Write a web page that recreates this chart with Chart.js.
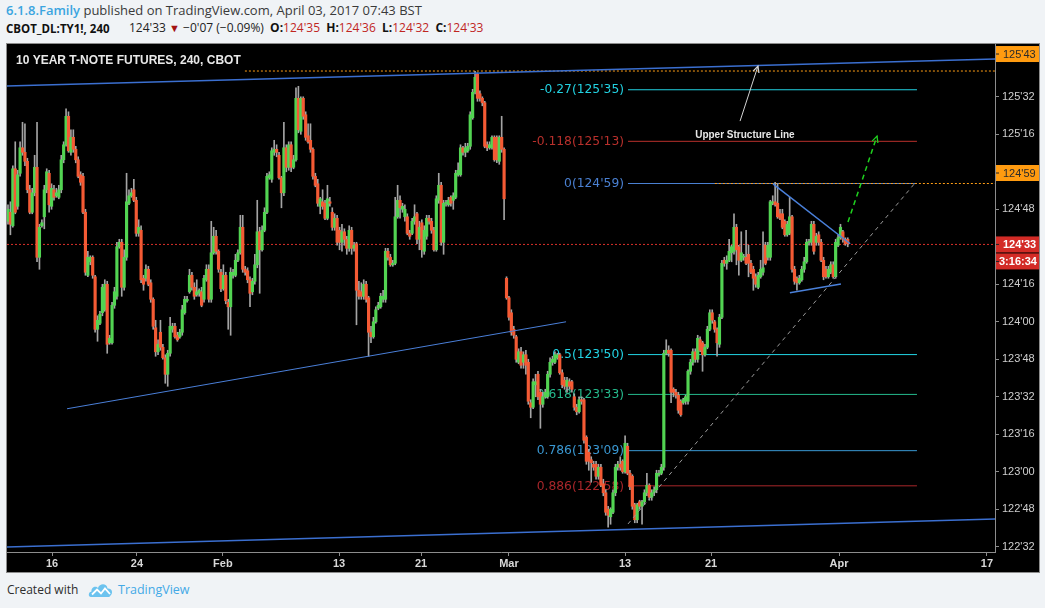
<!DOCTYPE html>
<html><head><meta charset="utf-8">
<script src="https://cdn.jsdelivr.net/npm/chart.js@4.4.1/dist/chart.umd.min.js"></script>
<style>
html,body{margin:0;padding:0;background:#f0f3f6;width:1045px;height:608px;overflow:hidden;font-family:'Open Sans',sans-serif}
#h1{position:absolute;left:6px;top:1px;font-size:13px;line-height:18px;color:#3a3a3a;white-space:nowrap}
#h1 .nm{color:#3ba5e0;font-weight:600}
#h2a{position:absolute;left:6px;top:20px;font-size:11.5px;line-height:17px;font-weight:700;color:#111;white-space:nowrap}
#h2b{position:absolute;left:129px;top:19px;font-size:12px;line-height:18px;color:#222;white-space:nowrap}
#h2b b{font-weight:700;color:#111}
#h2b .r{color:#c0261f}
#h2b .dn{color:#a31212;font-size:11px}
#panel{position:absolute;left:6px;top:43px;width:1032px;height:528px;border:1px solid #8c8c8c;background:#000}
#panel canvas{position:absolute;left:0;top:0}
#foot{position:absolute;left:7px;top:581px;font-size:12px;line-height:18px;color:#2d2d2d;white-space:nowrap}
#foot svg{position:absolute;left:81px;top:0px}
#foot .tv{position:absolute;left:111px;top:0;color:#43a9e6;font-size:12.5px}
</style></head>
<body>
<div id="h1"><span class="nm">6.1.8.Family</span> published on TradingView.com, April 03, 2017 07:43 BST</div>
<div id="h2a">CBOT_DL:TY1!, 240</div>
<div id="h2b">124'33 <span class="dn">&#9660;</span> &minus;0'07 (&minus;0.09%)&nbsp; <b>O:</b><span class="r">124'35</span>&nbsp; <b>H:</b><span class="r">124'36</span>&nbsp; <b>L:</b><span class="r">124'32</span>&nbsp; <b>C:</b><span class="r">124'33</span></div>
<div id="panel"><canvas id="c" width="1032" height="528"></canvas></div>
<div id="foot">Created with
<svg width="26" height="18" viewBox="0 0 26 18"><path d="M3 16 C0 16 0 11 3.5 10.5 C3 6 8 4.5 10 7 C11.5 2 19 2 19.5 7.5 C24 7 25.5 12 22.5 14.5 C22 15.5 21 16 20 16 Z" fill="#6cc3ef"/><path d="M4 13.5 L9 8.5 L13 12.5 L17 7.5 L22 13" stroke="#fff" stroke-width="1.8" fill="none"/></svg>
<span class="tv">TradingView</span></div>
<script>
// ---- OHLC (4h bars, 10Y T-Note futures) ----
const opens = [
124.67,124.73,124.64,125.02,124.77,124.99,125.16,125.13,125.07,124.88,
124.73,124.86,125.03,124.43,124.64,124.70,124.88,124.99,124.77,124.88,
124.84,124.83,124.88,125.08,125.18,125.37,125.13,125.23,125.15,125.08,
124.98,124.97,124.73,124.31,124.40,124.43,124.30,123.95,123.99,124.06,
124.08,124.25,123.86,123.86,124.11,124.17,124.50,124.53,124.23,124.43,
124.79,124.84,124.88,124.81,124.59,124.61,124.29,124.29,124.35,124.26,
124.15,123.96,123.80,123.93,123.83,123.76,123.65,123.79,123.95,123.97,
123.91,123.90,123.93,124.06,124.14,124.20,124.31,124.23,124.18,124.19,
124.20,124.15,124.28,124.35,124.15,124.46,124.57,124.47,124.33,124.22,
124.31,124.13,124.10,124.31,124.31,124.41,124.46,124.63,124.35,124.34,
124.28,124.20,124.27,124.38,124.60,124.48,124.61,124.73,124.96,124.95,
125.13,125.15,125.11,124.96,124.86,125.16,125.03,125.18,125.03,125.08,
125.49,125.27,125.49,125.38,125.24,125.21,125.15,124.97,124.92,124.77,
124.80,124.79,124.69,124.80,124.73,124.63,124.69,124.61,124.53,124.60,
124.55,124.49,124.61,124.49,124.52,124.21,124.20,124.17,124.25,124.16,
123.93,123.90,124.00,124.09,124.10,124.15,124.15,124.47,124.43,124.38,
124.39,124.70,124.81,124.75,124.70,124.70,124.59,124.59,124.67,124.72,
124.55,124.66,124.47,124.57,124.69,124.67,124.61,124.48,124.81,124.91,
124.53,124.79,124.78,124.83,124.81,124.83,124.98,124.98,125.16,125.13,
125.14,125.17,125.36,125.53,125.65,125.52,125.49,125.46,125.18,125.16,
125.16,125.23,125.23,125.07,125.23,125.15,124.29,124.16,124.06,123.95,
123.90,123.73,123.80,123.73,123.78,123.73,123.46,123.43,123.58,123.65,
123.53,123.45,123.50,123.50,123.65,123.73,123.73,123.76,123.78,123.66,
123.61,123.57,123.60,123.60,123.50,123.43,123.40,123.48,123.48,123.23,
123.13,123.08,123.05,123.05,122.97,123.03,122.92,122.86,122.75,122.70,
122.73,122.86,123.03,123.05,123.07,123.00,123.17,122.99,122.97,122.78,
122.68,122.80,122.77,122.80,122.86,122.91,122.83,122.86,122.88,122.98,
122.99,123.03,123.79,123.81,123.81,123.55,123.53,123.51,123.47,123.46,
123.47,123.47,123.67,123.73,123.80,123.75,123.88,123.86,123.78,123.83,
123.95,124.06,124.00,123.95,123.85,124.03,124.41,124.39,124.41,124.46,
124.47,124.63,124.50,124.41,124.43,124.43,124.45,124.39,124.35,124.30,
124.23,124.30,124.33,124.51,124.43,124.43,124.79,124.80,124.79,124.72,
124.72,124.67,124.58,124.59,124.70,124.35,124.29,124.26,124.28,124.35,
124.40,124.53,124.53,124.65,124.53,124.58,124.53,124.41,124.35,124.30,
124.33,124.38,124.30,124.51,124.56,124.60,124.55,124.55];
const highs = [
124.78,124.80,125.04,125.20,125.01,125.20,125.33,125.32,125.09,124.91,
124.89,125.11,125.33,124.65,124.68,124.91,125.02,125.01,124.92,124.91,
124.89,124.91,125.11,125.20,125.42,125.40,125.28,125.28,125.17,125.10,
125.00,124.99,124.75,124.47,124.44,124.44,124.31,124.04,124.07,124.25,
124.28,124.27,123.91,124.13,124.23,124.53,124.55,124.55,124.48,124.99,
124.88,124.89,124.95,124.83,124.68,124.64,124.31,124.38,124.37,124.28,
124.16,124.01,123.88,124.01,123.85,123.78,123.81,124.03,123.99,123.99,
123.93,123.95,124.11,124.17,124.17,124.35,124.33,124.26,124.28,124.22,
124.23,124.31,124.38,124.38,124.67,124.63,124.61,124.48,124.35,124.38,
124.33,124.15,124.36,124.35,124.45,124.48,124.71,124.71,124.37,124.36,
124.30,124.29,124.45,124.81,124.63,124.64,124.76,124.99,125.00,125.16,
125.21,125.18,125.13,124.97,125.33,125.18,125.20,125.20,125.11,125.56,
125.57,125.50,125.50,125.40,125.32,125.32,125.16,124.99,124.95,124.83,
124.88,124.81,124.91,124.83,124.76,124.72,124.71,124.63,124.65,124.62,
124.57,124.64,124.63,124.53,124.53,124.27,124.26,124.28,124.27,124.17,
123.97,124.03,124.10,124.13,124.19,124.21,124.49,124.49,124.45,124.41,
124.83,124.91,124.84,124.79,124.78,124.72,124.61,124.69,124.78,124.73,
124.67,124.68,124.64,124.71,124.71,124.69,124.63,124.84,124.99,124.93,
124.81,124.81,124.83,124.84,124.86,125.01,125.06,125.18,125.17,125.19,
125.19,125.40,125.55,125.67,125.66,125.54,125.50,125.47,125.20,125.20,
125.24,125.24,125.24,125.24,125.37,125.16,124.30,124.17,124.08,123.97,
123.91,123.82,123.83,123.80,123.81,123.75,123.48,123.62,123.65,123.67,
123.55,123.53,123.55,123.67,123.76,123.77,123.80,123.79,123.79,123.68,
123.63,123.63,123.62,123.61,123.52,123.45,123.50,123.50,123.49,123.24,
123.15,123.10,123.07,123.07,123.05,123.05,122.95,122.88,122.77,122.76,
122.88,123.05,123.07,123.10,123.08,123.24,123.19,123.01,122.98,122.79,
122.79,122.81,122.81,122.88,122.99,122.92,122.88,122.90,123.01,123.01,
123.05,123.81,123.88,123.84,123.82,123.56,123.55,123.53,123.48,123.49,
123.51,123.68,123.75,123.82,123.82,123.91,123.90,123.87,123.85,123.97,
124.08,124.08,124.01,123.96,124.05,124.41,124.43,124.44,124.55,124.51,
124.72,124.65,124.51,124.60,124.45,124.61,124.51,124.41,124.37,124.32,
124.33,124.41,124.60,124.53,124.53,124.81,124.84,124.93,124.92,124.75,
124.75,124.68,124.67,124.83,124.71,124.37,124.30,124.31,124.37,124.43,
124.55,124.55,124.67,124.67,124.59,124.60,124.55,124.43,124.37,124.37,
124.40,124.40,124.55,124.58,124.65,124.61,124.56,124.56];
const lows = [
124.65,124.58,124.63,124.72,124.75,124.97,125.11,125.04,124.86,124.72,
124.72,124.84,124.40,124.35,124.63,124.62,124.86,124.73,124.75,124.81,
124.83,124.82,124.86,125.06,125.17,125.13,125.11,125.13,125.06,124.96,
124.91,124.72,124.31,124.30,124.38,124.29,123.93,123.87,123.98,124.04,
124.07,123.79,123.85,123.85,124.09,124.15,124.49,124.17,124.21,124.41,
124.78,124.83,124.80,124.57,124.57,124.26,124.21,124.27,124.24,124.13,
123.95,123.77,123.78,123.81,123.75,123.59,123.57,123.77,123.93,123.89,
123.87,123.89,123.91,124.05,124.13,124.19,124.21,124.15,124.17,124.17,
124.10,124.13,124.27,124.13,124.13,124.45,124.45,124.33,124.20,124.21,
124.12,123.95,123.91,124.29,124.30,124.40,124.45,124.33,124.31,124.26,
124.10,124.18,124.25,124.36,124.19,124.47,124.60,124.72,124.95,124.93,
125.11,125.10,124.95,124.76,124.84,125.00,125.01,125.00,125.02,125.07,
125.26,125.25,125.35,125.21,125.19,125.13,124.95,124.90,124.77,124.72,
124.75,124.68,124.68,124.77,124.61,124.61,124.51,124.48,124.47,124.51,
124.45,124.47,124.45,124.47,123.98,124.15,124.15,124.15,124.13,123.77,
123.86,123.89,123.99,124.08,124.09,124.13,124.13,124.41,124.37,124.37,
124.38,124.69,124.69,124.73,124.67,124.58,124.55,124.58,124.65,124.52,
124.48,124.43,124.45,124.55,124.65,124.59,124.47,124.47,124.79,124.51,
124.45,124.77,124.77,124.77,124.75,124.82,124.97,124.97,125.11,125.10,
125.13,125.15,125.35,125.52,125.47,125.47,125.44,125.16,125.14,125.15,
125.15,125.07,125.06,125.05,125.13,124.68,124.15,124.01,123.91,123.89,
123.73,123.72,123.69,123.69,123.65,123.45,123.36,123.42,123.50,123.48,
123.29,123.43,123.49,123.49,123.63,123.71,123.72,123.75,123.65,123.56,
123.55,123.53,123.55,123.53,123.41,123.38,123.39,123.45,123.19,123.05,
123.01,122.93,123.01,122.95,122.95,122.90,122.84,122.71,122.63,122.65,
122.72,122.84,123.01,123.01,122.99,122.99,122.98,122.88,122.75,122.66,
122.66,122.75,122.65,122.78,122.84,122.81,122.81,122.84,122.86,122.97,
122.98,123.01,123.78,123.77,123.46,123.50,123.49,123.39,123.37,123.45,
123.45,123.45,123.65,123.71,123.73,123.73,123.80,123.67,123.77,123.82,
123.94,123.99,123.93,123.77,123.83,124.02,124.37,124.35,124.40,124.40,
124.45,124.38,124.31,124.40,124.41,124.38,124.30,124.32,124.21,124.23,
124.22,124.29,124.31,124.38,124.41,124.41,124.78,124.77,124.69,124.68,
124.62,124.57,124.57,124.58,124.33,124.25,124.21,124.25,124.27,124.33,
124.39,124.51,124.51,124.45,124.51,124.51,124.40,124.28,124.29,124.29,
124.32,124.29,124.29,124.50,124.55,124.53,124.51,124.50];
const closes = [
124.75,124.65,125.02,124.73,124.98,125.16,125.13,125.07,124.88,124.73,
124.86,125.03,124.43,124.63,124.66,124.88,125.00,124.78,124.89,124.83,
124.86,124.88,125.08,125.18,125.37,125.14,125.23,125.15,125.08,124.97,
124.93,124.73,124.33,124.43,124.43,124.31,123.95,124.01,124.05,124.23,
124.25,123.85,123.89,124.11,124.20,124.50,124.53,124.23,124.43,124.80,
124.84,124.86,124.81,124.59,124.63,124.28,124.25,124.35,124.25,124.15,
123.97,123.80,123.85,123.83,123.76,123.65,123.79,123.97,123.97,123.90,
123.88,123.93,124.08,124.15,124.15,124.31,124.23,124.17,124.20,124.21,
124.11,124.29,124.35,124.15,124.46,124.57,124.47,124.35,124.22,124.31,
124.14,124.10,124.33,124.33,124.41,124.46,124.63,124.35,124.33,124.28,
124.19,124.27,124.38,124.60,124.48,124.61,124.73,124.97,124.98,125.14,
125.15,125.13,124.96,124.86,125.16,125.03,125.18,125.03,125.08,125.49,
125.28,125.49,125.37,125.23,125.20,125.15,124.97,124.91,124.79,124.82,
124.77,124.69,124.82,124.79,124.63,124.69,124.53,124.53,124.60,124.55,
124.49,124.61,124.49,124.51,124.21,124.17,124.17,124.25,124.15,123.93,
123.90,124.00,124.08,124.11,124.17,124.17,124.47,124.43,124.38,124.39,
124.70,124.81,124.76,124.77,124.75,124.59,124.57,124.67,124.70,124.55,
124.63,124.48,124.61,124.69,124.67,124.61,124.48,124.82,124.91,124.53,
124.79,124.79,124.81,124.79,124.84,124.99,125.01,125.16,125.13,125.16,
125.17,125.38,125.53,125.63,125.49,125.49,125.46,125.17,125.16,125.18,
125.23,125.08,125.08,125.23,125.15,124.82,124.16,124.03,123.93,123.91,
123.75,123.80,123.71,123.78,123.71,123.47,123.43,123.60,123.60,123.50,
123.45,123.50,123.53,123.65,123.73,123.75,123.78,123.78,123.66,123.58,
123.57,123.61,123.57,123.55,123.43,123.40,123.48,123.47,123.21,123.07,
123.07,123.06,123.03,122.97,123.03,122.91,122.86,122.73,122.71,122.75,
122.86,123.03,123.05,123.03,123.00,123.19,122.99,122.90,122.77,122.68,
122.78,122.77,122.80,122.86,122.91,122.83,122.86,122.88,122.99,122.99,
123.03,123.79,123.81,123.79,123.53,123.53,123.51,123.41,123.38,123.48,
123.50,123.67,123.73,123.80,123.75,123.89,123.81,123.78,123.83,123.95,
124.06,124.01,123.95,123.86,124.03,124.39,124.39,124.41,124.47,124.50,
124.63,124.48,124.41,124.46,124.43,124.39,124.39,124.33,124.29,124.25,
124.31,124.35,124.36,124.39,124.51,124.80,124.80,124.78,124.70,124.69,
124.63,124.58,124.65,124.70,124.35,124.27,124.26,124.29,124.35,124.40,
124.53,124.53,124.65,124.47,124.57,124.53,124.41,124.30,124.30,124.35,
124.38,124.30,124.53,124.56,124.63,124.55,124.52,124.52];

// ---- axis ticks ----
const xTickLabels = ['16','24','Feb','13','21','Mar','13','21','Apr','17'];
const xTickBars   = [18.2, 53.3, 88.8, 136.8, 170.7, 207.0, 255.0, 290.5, 343.4, 404.5];
const yTickLabels = ["122'32","122'48","123'00","123'16","123'32","123'48","124'00","124'16","124'48","125'16","125'32"];

// ---- Fibonacci retracement ----
const fibLevels = ['-0.27','-0.118','0','0.5','0.618','0.786','0.886'];
const fibPrices = ["125'35","125'13","124'59","123'50","123'33","123'09","122'58"];
const fibColors = ['#22d2e2','#b8302c','#4a80d2','#22d4e4','#25b98c','#3a98d2','#a8262a'];
const fibSpan = [256.2, 375.6];

// ---- drawings (bar index, price) ----
const upperStructure = [[-0.41,125.572],[407.85,125.752]];
const bottomLine     = [[-0.41,122.498],[407.85,122.685]];
const leftChannel    = [[24.4,123.42],[230.6,124.00]];
const triUpper       = [[316.1,124.92],[348.0,124.52]];
const triLower       = [[323.1,124.194],[344.2,124.252]];
const supportDash    = [[256.2,122.652],[374.8,124.925]];
const greenArrow     = [[347.1,124.665],[359.1,125.238]];
const grayArrow      = [[302.5,125.338],[309.9,125.705]];
const orangeTop      = ["125'43", 97.9];
const orangeMid      = ["124'59", 292.1];
const lastPrice      = "124'33";
const countdown      = '3:16:34';
const noteText       = ['Upper Structure Line', 304.5, 125.245];
const titleText      = '10 YEAR T-NOTE FUTURES, 240, CBOT';

const X_MIN = -0.41, X_MAX = 407.85, Y_MIN = 122.465, Y_MAX = 125.852;

function p64(s){ const a = s.split("'"); return +a[0] + (+a[1])/64; }
function f64(v){ let a = Math.floor(v+1e-9), b = Math.round((v-a)*64); if (b===64){a++;b=0;} return a+"'"+String(b).padStart(2,'0'); }
const pts = arr => arr.map(p => ({x:p[0], y:p[1]}));
const hline = (price, from) => [{x:from, y:price},{x:X_MAX, y:price}];

const UP = '#52d452', DOWN = '#f45a34';
const bodyData = opens.map((o,i) => ({x:i, y:[o, closes[i]]}));
const wickData = lows.map((l,i) => ({x:i, y:[l, highs[i]]}));
const bodyColors = opens.map((o,i) => closes[i] >= o ? UP : DOWN);

const ln = (data, color, width, dash, order) => ({type:'line', data, borderColor:color, borderWidth:width, borderDash:dash||[], pointRadius:0, fill:false, tension:0, order});

const datasets = [
  ln(pts(upperStructure), '#3b6fd0', 1.5, null, 0),
  ln(pts(bottomLine), '#3b6fd0', 1.5, null, 0),
  ln(pts(leftChannel), '#4a7fd8', 1, null, 0),
  ln(pts(triUpper), '#4a80da', 1.5, null, 0),
  ln(pts(triLower), '#4a80da', 1.5, null, 0),
  ln(pts(supportDash), '#9a9a9a', 1, [4,4], 0),
  ln(pts(greenArrow), '#1fd11f', 1.5, [5,4], 0),
  ln(pts(grayArrow), '#d4d4d4', 1, null, 0),
  {type:'bar', data: bodyData, backgroundColor: bodyColors, barThickness: 2.5, grouped:false, minBarLength:1, borderWidth:0, order:2},
  {type:'bar', data: wickData, backgroundColor: '#a4a4a4', barThickness: 1, grouped:false, borderWidth:0, order:3},
  ln(hline(p64(orangeTop[0]), orangeTop[1]), '#ff9d14', 1, [2,2], 4),
  ln(hline(p64(orangeMid[0]), orangeMid[1]), '#ff9d14', 1, [2,2], 4),
  ln(hline(p64(lastPrice), X_MIN), '#d9302a', 1, [2,2], 4),
];
fibPrices.forEach((s,i) => datasets.push(ln([{x:fibSpan[0],y:p64(s)},{x:fibSpan[1],y:p64(s)}], fibColors[i], 1, null, 5)));

function arrowHead(ctx, x0, y0, x1, y1, color){
  const a = Math.atan2(y1-y0, x1-x0), L = 7;
  ctx.save(); ctx.strokeStyle = color; ctx.lineWidth = 1.3; ctx.setLineDash([]);
  ctx.beginPath();
  ctx.moveTo(x1 - L*Math.cos(a-0.45), y1 - L*Math.sin(a-0.45));
  ctx.lineTo(x1, y1);
  ctx.lineTo(x1 - L*Math.cos(a+0.45), y1 - L*Math.sin(a+0.45));
  ctx.stroke(); ctx.restore();
}

const overlay = {
  id:'overlay',
  beforeDatasetsDraw(chart){
    const {ctx, scales:{x,y}} = chart;
    ctx.save();
    ctx.font = '12.3px "DejaVu Sans", sans-serif';
    ctx.textAlign = 'right'; ctx.textBaseline = 'middle';
    fibLevels.forEach((lv,i) => {
      ctx.fillStyle = fibColors[i];
      ctx.fillText(lv + '(' + fibPrices[i] + ')', x.getPixelForValue(fibSpan[0]) - 4, y.getPixelForValue(p64(fibPrices[i])) + 0.5);
    });
    ctx.restore();
  },
  afterDatasetsDraw(chart){
    const {ctx, scales:{x,y}} = chart;
    ctx.save();
    const P = a => [x.getPixelForValue(a[0]), y.getPixelForValue(a[1])];
    let s = P(greenArrow[0]), e = P(greenArrow[1]);
    arrowHead(ctx, s[0], s[1], e[0], e[1], '#1fd11f');
    s = P(grayArrow[0]); e = P(grayArrow[1]);
    arrowHead(ctx, s[0], s[1], e[0], e[1], '#d4d4d4');
    ctx.fillStyle = '#e6e6e6';
    ctx.font = 'bold 10px "Liberation Sans", Arial, sans-serif';
    ctx.textAlign = 'center'; ctx.textBaseline = 'middle';
    ctx.fillText(noteText[0], x.getPixelForValue(noteText[1]), y.getPixelForValue(noteText[2]));
    ctx.fillStyle = '#e8e8e8';
    ctx.font = 'bold 12px "Liberation Sans", Arial, sans-serif';
    ctx.textAlign = 'left';
    ctx.fillText(titleText, 9, 16.5);
    ctx.restore();
  },
  afterDraw(chart){
    const {ctx, scales:{y}} = chart;
    const L = y.left, W = chart.width - y.left;
    const box = (text, cy, bg, fg, bold, tx) => {
      ctx.fillStyle = bg; ctx.fillRect(L+1, cy-8, W-1, 16);
      ctx.fillStyle = '#222'; ctx.fillRect(L+1, cy-0.5, 3, 1);
      ctx.fillStyle = fg;
      ctx.font = (bold?'bold ':'') + '11px "Liberation Sans", Arial, sans-serif';
      ctx.textAlign = 'left'; ctx.textBaseline = 'middle';
      ctx.fillText(text, L + tx, cy + 0.5);
    };
    ctx.save();
    box(orangeTop[0], y.getPixelForValue(p64(orangeTop[0])) - 17, '#ff9b10', '#2a2a2a', false, 8);
    box(orangeMid[0], y.getPixelForValue(p64(orangeMid[0])) - 10.5, '#ff9b10', '#2a2a2a', false, 8);
    const cy = y.getPixelForValue(p64(lastPrice));
    box(lastPrice, cy, '#d32b26', '#ffffff', true, 8);
    box(countdown, cy + 17, '#d32b26', '#ffffff', true, 4);
    ctx.restore();
  }
};

new Chart(document.getElementById('c'), {
  type:'bar',
  data:{datasets},
  options:{
    responsive:false, animation:false, devicePixelRatio:1, events:[],
    layout:{padding:0},
    plugins:{legend:{display:false}, tooltip:{enabled:false}},
    scales:{
      x:{type:'linear', position:'bottom', min:X_MIN, max:X_MAX, offset:false,
        grid:{display:true, drawOnChartArea:false, drawTicks:true, tickLength:4, color:'#8c8c8c', offset:false},
        border:{display:true, color:'#8c8c8c'},
        ticks:{autoSkip:false, maxRotation:0, padding:1, color:'#d8d8d8',
          font:{family:'"Liberation Sans", Arial, sans-serif', size:11, weight:'bold'},
          callback:(v,i) => xTickLabels[i]},
        afterBuildTicks:s => { s.ticks = xTickBars.map(v => ({value:v})); },
        afterFit:s => { s.height = 20; s.paddingLeft = 0; s.paddingRight = 0; }
      },
      y:{type:'linear', position:'right', min:Y_MIN, max:Y_MAX,
        grid:{display:true, drawOnChartArea:false, drawTicks:true, tickLength:4, color:'#8c8c8c'},
        border:{display:true, color:'#8c8c8c'},
        ticks:{padding:3, color:'#cfcfcf', font:{family:'"Liberation Sans", Arial, sans-serif', size:11},
          callback:v => f64(v)},
        afterBuildTicks:s => { s.ticks = yTickLabels.map(t => ({value:p64(t)})); },
        afterFit:s => { s.width = 44; s.paddingTop = 0; s.paddingBottom = 0; }
      }
    }
  },
  plugins:[overlay]
});
</script>
</body></html>
